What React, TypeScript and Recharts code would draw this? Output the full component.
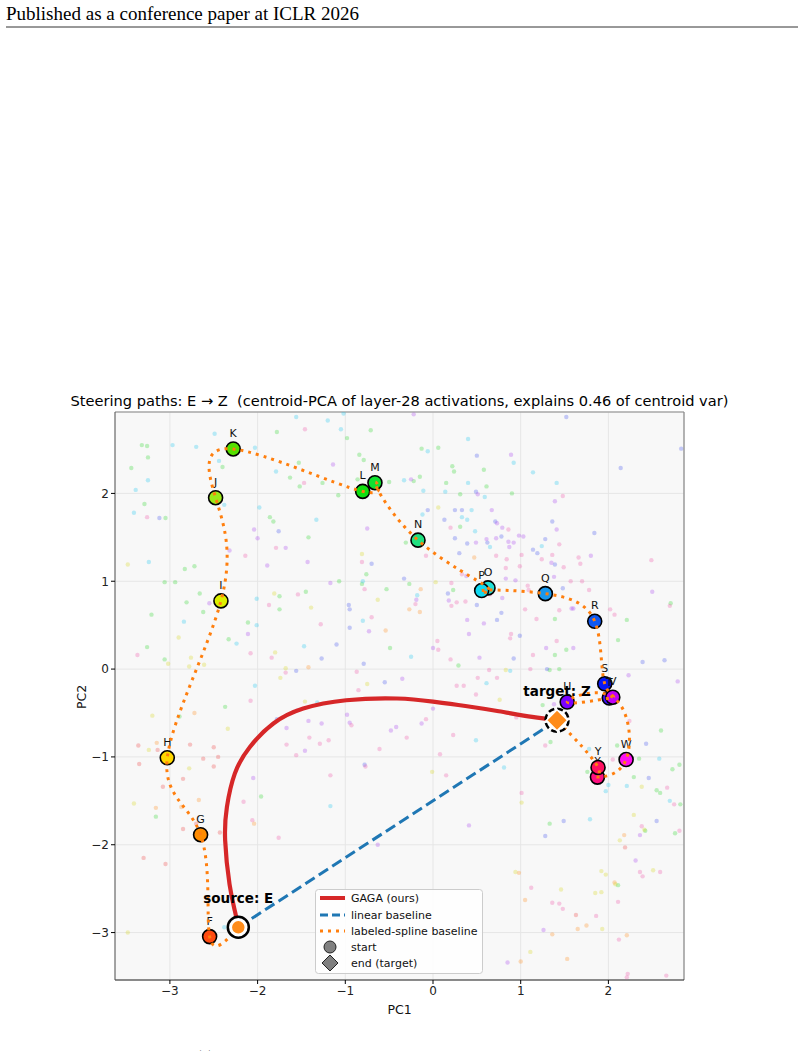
import React from 'react';
import { ComposedChart, Scatter, XAxis, YAxis, CartesianGrid, ReferenceLine } from 'recharts';

// === eixos ===
const X_TICKS = [-3, -2, -1, 0, 1, 2];
const Y_TICKS = [-3, -2, -1, 0, 1, 2];
const X_DOMAIN = [-3.626, 2.862];
const Y_DOMAIN = [-3.54, 2.927];

// === pontos etiquetados (centroides) ===
const labels = ['F', 'G', 'H', 'I', 'J', 'K', 'L', 'M', 'N', 'O', 'P', 'Q', 'R', 'S', 'T', 'U', 'V', 'W', 'X', 'Y'];
const labelX = [-2.547, -2.65, -3.03, -2.418, -2.479, -2.278, -0.802, -0.662, -0.171, 0.627, 0.555, 1.281, 1.844, 1.958, 2.01, 1.53, 2.05, 2.202, 1.875, 1.882];
const labelY = [-3.046, -1.886, -1.01, 0.776, 1.951, 2.506, 2.023, 2.122, 1.468, 0.924, 0.894, 0.859, 0.544, -0.167, -0.33, -0.375, -0.32, -1.03, -1.23, -1.12];
const labelColors = ['#ff4a10', '#ff8c00', '#ffd700', '#dcf000', '#9be81a', '#55e000', '#10e010', '#10e030', '#20e080', '#20e0d8', '#10d8f0', '#1898f0', '#1058f0', '#0818f8', '#3a10f8', '#7a00ff', '#c000f8', '#ff10f0', '#ff1080', '#ff1060'];

const source = { name: 'E', x: -2.22, y: -2.94 };
const target = { name: 'Z', x: 1.414, y: -0.582 };

// === GAGA (curva vermelha) ===
const gagaX = [-2.22, -2.26, -2.32, -2.37, -2.35, -2.26, -2.09, -1.82, -1.48, -0.99, -0.41, 0.0, 0.37, 0.75, 1.13, 1.414];
const gagaY = [-2.94, -2.75, -2.45, -1.95, -1.57, -1.19, -0.89, -0.62, -0.45, -0.355, -0.335, -0.37, -0.42, -0.48, -0.545, -0.582];

// === pontos de fundo (ativações), por cor ===
const bgGreen = [[-1.78,2.70],[-0.98,2.63],[-0.71,2.72],[-3.32,2.55],[-3.26,2.54],[-3.25,2.41],[-3.44,2.29],[-2.40,2.30],[-1.63,2.18],[-1.53,2.35],[-1.52,2.08],[-1.26,2.12],[-1.08,1.98],[-0.84,2.44],[-0.79,2.38],[-0.86,2.16],[-0.50,2.13],[-3.29,1.88],[-3.05,1.72],[-1.86,1.73],[-1.82,1.68],[-1.42,1.50],[-2.83,1.14],[-2.72,1.17],[-3.06,0.99],[-2.94,0.99],[-2.66,0.86],[-2.81,0.76],[-2.62,0.65],[-3.21,0.62],[-3.26,0.25],[-3.06,0.11],[-2.33,0.34],[-2.11,0.53],[-1.75,0.83],[-1.75,0.68],[-1.45,0.88],[-1.07,1.00],[-0.76,1.08],[-0.81,0.97],[-0.53,0.91],[-0.49,0.24],[-0.13,2.51],[0.06,2.52],[0.22,2.31],[0.24,2.25],[0.58,2.27],[-0.22,2.14],[-0.15,2.19],[0.15,2.12],[0.61,2.08],[0.31,1.99],[0.90,2.00],[0.31,1.62],[-0.31,1.44],[-0.27,0.97],[0.23,0.90],[2.71,0.75],[2.21,0.56],[1.39,0.57],[1.52,0.22],[1.39,0.16],[2.11,0.33],[0.29,0.04],[1.33,-0.01],[1.44,0.00],[-2.89,-0.54],[-2.37,-0.43],[-1.96,-1.45],[-3.16,-1.68],[1.25,-0.41],[1.34,-0.83],[1.76,-1.17],[2.29,-1.23],[2.35,-1.02],[2.60,-0.70],[2.10,-0.87],[2.55,-1.38],[2.59,-1.41],[2.73,-1.14],[2.81,-1.09],[2.82,-1.54],[1.33,-1.76],[2.42,-1.84],[2.76,-1.87],[2.11,-2.46]];
const bgCyan = [[-1.56,2.87],[-1.20,2.83],[-1.05,2.73],[-1.02,2.91],[-2.49,2.68],[-2.97,2.55],[-2.70,2.53],[-2.03,2.52],[-3.25,2.15],[-3.39,2.04],[-2.44,2.37],[-1.79,2.25],[-3.41,1.78],[-2.38,1.87],[-1.98,1.84],[-1.33,1.70],[-3.24,1.22],[-2.84,0.54],[-2.24,0.29],[-2.01,0.50],[-2.01,0.80],[-1.47,0.26],[-0.80,1.00],[-0.80,0.55],[-2.03,-0.19],[0.40,2.62],[-0.06,2.48],[0.92,2.35],[1.14,2.24],[-0.33,2.15],[0.40,2.12],[1.41,2.12],[-0.11,2.03],[0.14,2.02],[0.59,1.96],[-0.12,1.76],[0.44,1.81],[0.33,1.73],[0.39,1.70],[0.48,1.57],[0.65,1.39],[1.24,1.40],[-0.18,0.84],[-0.25,0.14],[0.88,-0.02],[0.61,-0.16],[-1.32,-0.38],[-1.17,-1.56],[-2.38,-2.94],[0.49,-0.81],[0.81,-1.12],[1.78,-0.91],[2.00,-1.32],[1.97,-1.39],[2.21,-1.33],[2.58,-1.02],[2.70,-1.50],[1.79,-1.71]];
const bgBlue = [[-3.12,1.72],[-1.76,1.57],[-0.70,1.20],[-1.56,-0.02],[-1.27,0.12],[-1.10,0.28],[-0.96,0.73],[-0.95,0.68],[-0.95,0.47],[-0.79,0.06],[-0.55,-0.15],[1.52,2.87],[2.83,2.51],[0.50,2.43],[2.14,2.29],[0.49,2.02],[-0.06,1.81],[0.25,1.81],[0.33,1.81],[0.13,1.70],[0.71,1.68],[0.25,1.49],[0.39,1.43],[0.62,1.44],[0.78,1.51],[1.36,1.68],[1.84,1.55],[1.28,1.48],[1.14,1.36],[1.19,1.32],[0.30,1.32],[1.39,1.19],[1.48,0.92],[-0.33,1.03],[0.17,0.86],[0.50,0.73],[0.78,0.64],[0.73,0.56],[0.99,0.38],[2.39,0.08],[2.64,0.10],[0.92,0.12],[1.30,0.00],[-1.78,-0.57],[-0.78,-1.09],[2.46,-1.24],[2.43,-0.85],[1.49,-1.73],[1.28,-1.90],[2.55,-1.73]];
const bgPurple = [[-1.14,2.33],[-2.04,1.59],[-2.00,1.49],[-2.32,1.35],[-1.68,1.38],[-1.89,1.18],[-1.43,1.22],[-2.55,0.75],[-2.11,0.40],[-1.17,0.98],[-0.75,1.60],[-0.73,0.43],[-0.22,2.90],[0.89,2.44],[-0.25,2.16],[0.51,1.99],[1.39,1.91],[0.67,1.81],[0.73,1.66],[0.79,1.61],[0.61,1.48],[0.49,1.44],[0.72,1.49],[0.86,1.45],[0.87,1.39],[0.92,1.44],[0.98,1.52],[1.03,1.51],[1.41,1.59],[1.35,1.21],[1.80,1.29],[0.38,1.06],[0.83,1.03],[0.94,1.01],[1.38,1.05],[0.18,0.78],[0.79,0.81],[-0.19,0.79],[1.58,0.69],[1.60,0.69],[2.50,0.88],[0.39,0.56],[0.58,0.52],[0.41,0.40],[0.00,0.24],[1.29,0.24],[1.60,0.24],[2.79,-0.14],[2.23,-0.07],[0.53,0.13],[-0.35,-0.11],[-1.55,-0.47],[-1.67,-0.67],[-1.42,-0.59],[-1.27,-0.62],[-1.46,-0.93],[-0.98,-0.52],[-0.95,-0.61],[-0.48,-0.70],[-0.42,-0.66],[-2.05,-1.24],[-0.63,-2.00],[0.00,-0.45],[-0.13,-0.62],[1.38,-0.40],[0.41,-1.78],[2.36,-1.89],[2.31,-2.18],[1.26,-2.97],[0.85,-3.34]];
const bgPink = [[-1.46,2.73],[-1.47,2.12],[-3.26,1.73],[-2.14,1.29],[-1.79,1.38],[-3.37,0.16],[-1.87,0.73],[-1.54,0.85],[-1.28,0.51],[-2.08,0.18],[-1.84,0.13],[-1.68,-0.04],[-0.81,1.22],[-0.78,0.91],[-0.70,0.59],[-0.87,-0.03],[-0.85,-0.24],[1.48,1.97],[0.20,1.61],[0.86,1.59],[1.44,1.42],[0.72,1.29],[0.84,1.25],[1.01,1.30],[1.24,1.25],[1.36,1.30],[1.49,1.16],[1.66,1.27],[1.68,1.20],[2.49,1.24],[-0.08,1.29],[0.33,1.08],[0.83,1.15],[0.99,1.17],[1.57,1.00],[1.70,1.00],[1.78,0.90],[1.08,0.95],[1.09,0.90],[0.21,0.98],[0.27,0.76],[0.21,0.72],[0.37,0.77],[0.65,0.85],[-0.20,0.74],[1.05,0.68],[1.44,0.67],[2.02,0.68],[2.07,0.62],[2.70,0.72],[1.18,0.57],[0.89,0.40],[0.88,0.35],[0.05,0.32],[0.06,0.22],[1.41,0.32],[1.14,0.16],[0.20,0.11],[0.64,-0.01],[1.11,0.00],[0.51,-0.10],[0.73,-0.10],[0.27,-0.19],[0.35,-0.19],[0.49,-0.29],[-2.08,-0.36],[-1.41,-0.78],[-1.29,-0.85],[-1.19,-0.81],[-1.56,-0.98],[-1.67,-0.86],[-0.93,-0.64],[-0.61,-0.91],[-0.77,-1.11],[-1.17,-1.21],[-2.16,-1.51],[-2.06,-1.72],[-1.76,-1.92],[-0.08,-0.57],[-0.30,-0.78],[0.08,-0.97],[0.23,-0.75],[0.95,-0.55],[0.15,-1.21],[1.28,-0.87],[2.24,-0.59],[2.05,-1.03],[2.67,-1.35],[2.75,-1.54],[1.01,-1.41],[2.38,-1.79],[2.81,-1.84],[2.36,-2.31],[2.39,-2.36],[2.59,-2.31],[1.12,-2.49],[1.36,-2.66],[1.44,-2.67],[1.48,-2.73],[1.86,-2.81],[2.11,-2.65],[2.12,-3.08],[2.22,-3.47],[2.21,-3.51],[2.66,-3.49]];
const bgRed = [[-3.36,-0.87],[-3.14,-0.92],[-2.77,-0.86],[-2.62,-1.02],[-2.45,-1.00],[-2.50,-0.89],[-3.35,-1.08],[-2.50,-1.11],[-2.85,-1.25],[-3.08,-1.34],[-2.85,-1.82],[-2.70,-1.76],[-2.43,-1.86],[-3.30,-2.15],[-3.05,-2.22],[2.19,-2.03],[1.63,-2.80]];
const bgOrange = [[-1.42,0.02],[-0.54,0.44],[0.47,1.27],[-0.14,0.91],[-0.27,0.68],[-0.15,0.65],[-2.72,-0.50],[-3.15,-0.84],[-2.04,-1.76],[-3.16,-1.58],[-2.87,-1.57],[-2.67,-1.49],[2.18,-1.89],[0.98,-2.32],[2.07,-2.43],[1.05,-2.63],[1.65,-2.96],[1.75,-2.92],[1.36,-3.02],[2.21,-3.03],[1.53,-3.30],[1.00,-3.33]];
const bgYellow = [[-3.48,1.19],[-2.90,0.36],[-3.02,0.06],[-2.76,0.13],[-2.78,0.03],[-2.61,0.05],[-1.81,0.86],[-1.39,0.70],[-1.80,0.19],[-1.68,0.01],[-1.74,-0.10],[-0.81,1.31],[-0.63,0.79],[-0.75,-0.17],[0.06,1.84],[0.03,0.99],[0.83,-0.01],[-3.20,-0.53],[-1.46,-0.37],[-2.34,-0.68],[-3.24,-0.92],[-2.78,-1.13],[-3.41,-1.53],[-3.48,-3.00],[0.76,-0.35],[-0.01,-1.17],[2.38,-1.34],[1.01,-1.52],[2.29,-1.66],[2.41,-1.83],[2.13,-1.95],[0.94,-2.31],[1.92,-2.30],[1.97,-2.34],[2.08,-2.45],[1.46,-2.51],[1.85,-2.55],[1.92,-2.54],[1.93,-2.96],[1.11,-3.22],[2.51,-2.29]];

// === cores ===
const RED = '#d62728';
const BLUE = '#1f77b4';
const ORANGE = '#ff7f0e';
const FONT = 'DejaVu Sans';

const bgGroups = [
  { data: bgGreen, color: '#33d633' },
  { data: bgCyan, color: '#22c8ee' },
  { data: bgBlue, color: '#4455ee' },
  { data: bgPurple, color: '#a844ee' },
  { data: bgPink, color: '#ee55aa' },
  { data: bgRed, color: '#ee4444' },
  { data: bgOrange, color: '#ff9022' },
  { data: bgYellow, color: '#d8d822' },
];

const toPts = (arr: number[][]) => arr.map(([x, y]) => ({ x, y }));
const labeledPts = labels.map((name, i) => ({ name, x: labelX[i], y: labelY[i], color: labelColors[i] }));
const splinePts = [source, ...labeledPts, target].map(p => ({ x: p.x, y: p.y }));
const gagaPts = gagaX.map((x, i) => ({ x, y: gagaY[i] }));
const linearPts = [{ x: source.x, y: source.y }, { x: target.x, y: target.y }];

const fmt = (v: number) => (v < 0 ? '\u2212' + Math.abs(v) : String(v));
const noDot = () => <g />;

const LabeledDot = (p: any) => (
  <g>
    <circle cx={p.cx} cy={p.cy} r={7} fill={p.payload.color} stroke="#000" strokeWidth={1.6} />
    <text x={p.cx} y={p.cy - 12} textAnchor="middle" fontFamily={FONT} fontSize={11} fill="#111">{p.payload.name}</text>
  </g>
);

const SourceDot = (p: any) => (
  <g>
    <circle cx={p.cx} cy={p.cy} r={10.5} fill="#fff" stroke="#000" strokeWidth={2.5} />
    <circle cx={p.cx} cy={p.cy} r={7} fill="#ff8c1a" stroke="#fff" strokeWidth={1.5} />
    <text x={p.cx} y={p.cy - 24} textAnchor="middle" fontFamily={FONT} fontSize={13.5} fontWeight="bold" fill="#000">source: {source.name}</text>
  </g>
);

const TargetDot = (p: any) => {
  const s = 10.5;
  return (
    <g>
      <circle cx={p.cx} cy={p.cy} r={11.5} fill="#fff" stroke="#000" strokeWidth={2.5} strokeDasharray="6 3" />
      <path d={`M${p.cx},${p.cy - s} L${p.cx + s},${p.cy} L${p.cx},${p.cy + s} L${p.cx - s},${p.cy} Z`} fill="#ff8c1a" stroke="#fff" strokeWidth={1.5} />
      <text x={p.cx} y={p.cy - 24} textAnchor="middle" fontFamily={FONT} fontSize={13.5} fontWeight="bold" fill="#000">target: {target.name}</text>
    </g>
  );
};

export default function App() {
  return (
    <div style={{ position: 'absolute', left: 0, top: 0, width: 804, height: 1051, background: '#fff' }}>
      <ComposedChart width={804} height={1051} margin={{ top: 412, right: 120, bottom: 31, left: 75 }}>
        <CartesianGrid stroke="#e6e6e6" fill="#f8f8f8" />
        <XAxis type="number" dataKey="x" domain={X_DOMAIN} ticks={X_TICKS} allowDataOverflow height={40}
          tickFormatter={fmt} tick={{ fill: '#222', fontSize: 12, fontFamily: FONT }} tickSize={4}
          tickLine={{ stroke: '#000' }} axisLine={{ stroke: '#222' }} />
        <YAxis type="number" dataKey="y" domain={Y_DOMAIN} ticks={Y_TICKS} allowDataOverflow width={40}
          tickFormatter={fmt} tick={{ fill: '#222', fontSize: 12, fontFamily: FONT }} tickSize={4}
          tickLine={{ stroke: '#000' }} axisLine={{ stroke: '#555' }} />
        <ReferenceLine x={X_DOMAIN[1]} stroke="#888" strokeWidth={1.2} />
        <ReferenceLine y={Y_DOMAIN[1]} stroke="#888" strokeWidth={1.2} />

        {bgGroups.map((g, i) => (
          <Scatter key={i} data={toPts(g.data)} isAnimationActive={false}
            shape={(p: any) => <circle cx={p.cx} cy={p.cy} r={2.2} fill={g.color} fillOpacity={0.3} />} />
        ))}

        <Scatter data={linearPts} isAnimationActive={false} shape={noDot} lineJointType="linear"
          line={{ stroke: BLUE, strokeWidth: 3, strokeDasharray: '11 5', fill: 'none' }} />
        <Scatter data={gagaPts} isAnimationActive={false} shape={noDot} lineJointType="natural"
          line={{ stroke: RED, strokeWidth: 4.2, fill: 'none' }} />
        <Scatter data={labeledPts} isAnimationActive={false} shape={LabeledDot} />
        <Scatter data={splinePts} isAnimationActive={false} shape={noDot} lineJointType="natural"
          line={{ stroke: ORANGE, strokeWidth: 3, strokeDasharray: '3 5', fill: 'none' }} />
        <Scatter data={[source]} isAnimationActive={false} shape={SourceDot} />
        <Scatter data={[target]} isAnimationActive={false} shape={TargetDot} />
      </ComposedChart>

      {/* textos da página, título e legenda */}
      <svg width={804} height={1051} style={{ position: 'absolute', left: 0, top: 0, pointerEvents: 'none' }}>
        <text x={6} y={20} fontFamily="Liberation Serif" fontSize={19} fill="#000">Published as a conference paper at ICLR 2026</text>
        <line x1={6} x2={798} y1={27} y2={27} stroke="#333" strokeWidth={1} />
        <text x={399.5} y={406} textAnchor="middle" fontFamily={FONT} fontSize={14.6} fill="#000" style={{ whiteSpace: 'pre' }}>
          {'Steering paths: E \u2192 Z  (centroid-PCA of layer-28 activations, explains 0.46 of centroid var)'}
        </text>
        <text x={399.5} y={1014} textAnchor="middle" fontFamily={FONT} fontSize={12.5} fill="#111">PC1</text>
        <text x={86} y={697} textAnchor="middle" fontFamily={FONT} fontSize={12.5} fill="#111" transform="rotate(-90 86 697)">PC2</text>

        <rect x={315.5} y={889.5} width={167} height={84} rx={3} fill="#fff" fillOpacity={0.85} stroke="#ccc" />
        <line x1={320} x2={345} y1={898} y2={898} stroke={RED} strokeWidth={4} />
        <line x1={320} x2={345} y1={915} y2={915} stroke={BLUE} strokeWidth={3} strokeDasharray="8 4" />
        <line x1={320} x2={345} y1={931} y2={931} stroke={ORANGE} strokeWidth={3} strokeDasharray="3 5" />
        <circle cx={330} cy={947} r={6} fill="#808080" stroke="#222" strokeWidth={1} />
        <path d="M330,955 L338,963 L330,971 L322,963 Z" fill="#808080" stroke="#222" strokeWidth={1} />
        <g fontFamily={FONT} fontSize={11} fill="#111">
          <text x={351} y={902}>GAGA (ours)</text>
          <text x={351} y={919}>linear baseline</text>
          <text x={351} y={935}>labeled-spline baseline</text>
          <text x={351} y={951}>start</text>
          <text x={351} y={967}>end (target)</text>
        </g>
        <text x={196} y={1062} fontFamily="Liberation Serif" fontSize={16} fill="#000">(a)</text>
      </svg>
    </div>
  );
}
